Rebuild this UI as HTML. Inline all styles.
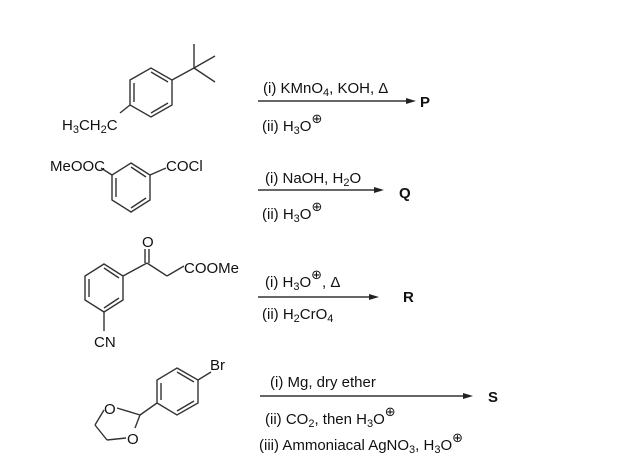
<!DOCTYPE html>
<html><head><meta charset="utf-8"><style>body{margin:0;background:#fff}svg{display:block}text{font-family:"Liberation Sans",Arial,sans-serif;font-size:15px;fill:#111}.pl{font-family:"DejaVu Sans",sans-serif;font-size:13px}</style></head><body>
<svg width="624" height="466" viewBox="0 0 624 466" xmlns="http://www.w3.org/2000/svg">
<g stroke="#333" stroke-width="1.4" fill="none">
<polygon points="130,80 151,68 172,80 172,105 151,117 130,105"/>
<line x1="134" y1="83" x2="134" y2="102"/><line x1="151" y1="72" x2="168" y2="82"/><line x1="151" y1="113" x2="168" y2="103"/>
<line x1="172" y1="80" x2="194" y2="68"/><line x1="194" y1="68" x2="194" y2="44"/><line x1="194" y1="68" x2="215" y2="56"/><line x1="194" y1="68" x2="215" y2="82"/>
<line x1="130" y1="105" x2="120" y2="113"/>
<polygon points="131,163 112,175 112,200 131,212 150,200 150,175"/>
<line x1="116" y1="178" x2="116" y2="197"/><line x1="131" y1="167" x2="146" y2="177"/><line x1="131" y1="208" x2="146" y2="198"/>
<line x1="112" y1="175" x2="101" y2="168"/><line x1="150" y1="175" x2="166" y2="168"/>
<polygon points="104,264 123,276 123,300 104,312 85,300 85,276"/>
<line x1="89" y1="279" x2="89" y2="297"/><line x1="104" y1="268" x2="119" y2="278"/><line x1="104" y1="308" x2="119" y2="298"/>
<line x1="104" y1="312" x2="104" y2="331"/>
<line x1="123" y1="276" x2="147" y2="263"/><line x1="145" y1="263" x2="145" y2="249"/><line x1="149" y1="263" x2="149" y2="249"/>
<line x1="147" y1="263" x2="167" y2="276"/><line x1="167" y1="276" x2="184" y2="266"/>
<polygon points="177,368 198,380 198,403 177,415 157,403 157,380"/>
<line x1="161" y1="383" x2="161" y2="400"/><line x1="177" y1="372" x2="194" y2="382"/><line x1="177" y1="411" x2="194" y2="401"/>
<line x1="198" y1="380" x2="211" y2="372"/>
<line x1="157" y1="403" x2="140" y2="415"/>
<line x1="140" y1="415" x2="117" y2="408"/><line x1="104" y1="410" x2="95" y2="425"/><line x1="95" y1="425" x2="107" y2="440"/><line x1="107" y1="440" x2="126" y2="438"/><line x1="140" y1="415" x2="135" y2="428"/>
<line x1="258" y1="101" x2="410" y2="101"/><line x1="258" y1="190" x2="378" y2="190"/><line x1="258" y1="297" x2="373" y2="297"/><line x1="260" y1="396" x2="467" y2="396"/>
</g>
<g fill="#222">
<polygon points="416,101 406,98 406,104"/><polygon points="384,190 374,187 374,193"/><polygon points="379,297 369,294 369,300"/><polygon points="473,396 463,393 463,399"/>
</g>
<text x="62" y="130">H<tspan font-size="11" dy="3">3</tspan><tspan dy="-3">CH</tspan><tspan font-size="11" dy="3">2</tspan><tspan dy="-3">C</tspan></text>
<text x="50" y="171">MeOOC</text>
<text x="166" y="171">COCl</text>
<text x="142" y="247">O</text>
<text x="184" y="273">COOMe</text>
<text x="94" y="347">CN</text>
<text x="210" y="370">Br</text>
<text x="104" y="414">O</text>
<text x="127" y="444">O</text>
<text x="263" y="93">(i) KMnO<tspan font-size="11" dy="3">4</tspan><tspan dy="-3">, KOH, Δ</tspan></text>
<text x="262" y="131">(ii) H<tspan font-size="11" dy="3">3</tspan><tspan dy="-3">O</tspan><tspan class="pl" dy="-8">⊕</tspan></text>
<text x="265" y="183">(i) NaOH, H<tspan font-size="11" dy="3">2</tspan><tspan dy="-3">O</tspan></text>
<text x="262" y="219">(ii) H<tspan font-size="11" dy="3">3</tspan><tspan dy="-3">O</tspan><tspan class="pl" dy="-8">⊕</tspan></text>
<text x="265" y="287">(i) H<tspan font-size="11" dy="3">3</tspan><tspan dy="-3">O</tspan><tspan class="pl" dy="-8">⊕</tspan><tspan dy="8">, Δ</tspan></text>
<text x="262" y="319">(ii) H<tspan font-size="11" dy="3">2</tspan><tspan dy="-3">CrO</tspan><tspan font-size="11" dy="3">4</tspan></text>
<text x="270" y="387">(i) Mg, dry ether</text>
<text x="265" y="424">(ii) CO<tspan font-size="11" dy="3">2</tspan><tspan dy="-3">, then H</tspan><tspan font-size="11" dy="3">3</tspan><tspan dy="-3">O</tspan><tspan class="pl" dy="-8">⊕</tspan></text>
<text x="259" y="450">(iii) Ammoniacal AgNO<tspan font-size="11" dy="3">3</tspan><tspan dy="-3">, H</tspan><tspan font-size="11" dy="3">3</tspan><tspan dy="-3">O</tspan><tspan class="pl" dy="-8">⊕</tspan></text>
<text x="420" y="107" style="font-weight:bold">P</text><text x="399" y="198" style="font-weight:bold">Q</text><text x="403" y="302" style="font-weight:bold">R</text><text x="488" y="402" style="font-weight:bold">S</text>
</svg>
</body></html>
